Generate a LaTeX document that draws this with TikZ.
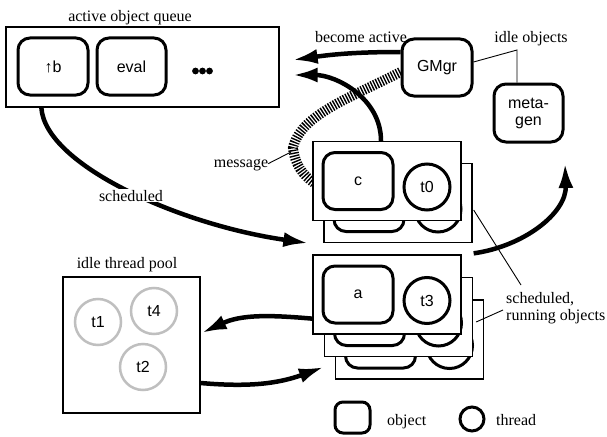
\documentclass[tikz,border=0pt]{standalone}
\usepackage{fontspec}
\setmainfont{Liberation Serif}
\newfontfamily\boxfont{Liberation Sans}
\usetikzlibrary{arrows.meta}

\tikzset{
  lbl/.style={font=\fontsize{16}{17}\selectfont, inner sep=0pt},
  inside/.style={font=\boxfont\fontsize{16}{17}\selectfont},
  obj/.style={inside, draw, line width=3pt, rounded corners=12pt, fill=white,
    minimum width=70pt, minimum height=57pt, inner sep=0pt},
  thr/.style={inside, draw, circle, line width=3pt, fill=white,
    minimum size=46pt, inner sep=0pt},
  idlethr/.style={thr, draw=black!25, line width=2.5pt},
  frame/.style={draw, line width=1.3pt, fill=white, inner sep=0pt},
  card/.style={frame, minimum width=148pt, minimum height=79pt},
  flow/.style={line width=4.5pt, -{Latex[length=25pt,width=15pt]}},
  leader/.style={line width=0.9pt},
  hatchband/.style={line width=10pt, dash pattern=on 1.4pt off 1.4pt},
}

% a running object: frame, object box and its thread
\newcommand\runcard[4]{%
  \node[card] (#1) at (#2) {};
  \node[obj] (#1o) at ([shift={(-29,0)}]#1.center) {#3};
  \node[thr] (#1t) at ([shift={(40,6)}]#1.center) {#4};
}

\begin{document}
\begin{tikzpicture}[x=1pt,y=-1pt]
\useasboundingbox (0,0) rectangle (607,436);

% active object queue
\node[frame, minimum width=273pt, minimum height=80pt] (queue) at (142.5,67) {};
\node[lbl, anchor=base] (queuetitle) at (130,22) {active object queue};
\node[obj] (qb) at (53,66.5) {\textuparrow b};
\node[obj, minimum width=69pt] (qeval) at (131.5,66.5) {eval};
\foreach \dx in {195.5,202.5,209.5} \fill (\dx,71) circle (3.4pt);

% group manager and meta generator
\node[obj] (gmgr) at (437,67.5) {GMgr};
\node[obj, minimum width=69pt, minimum height=58pt, align=center] (metagen) at (528.5,113) {meta-\\gen};
\node[lbl, anchor=base] (becomeactive) at (361,42) {become active};
\node[lbl, anchor=base] (idleobj) at (531,42) {idle objects};
\coordinate (idlecorner) at (517,50);
\draw[leader] ([yshift=5.5pt]gmgr.east) -- (idlecorner) -- ([xshift=-11.5pt]metagen.north);

% idle thread pool
\node[frame, minimum width=137pt, minimum height=136pt] (pool) at (131.5,345) {};
\node[lbl, anchor=base] (pooltitle) at (127,268) {idle thread pool};
\node[idlethr] (t1) at (98,322) {t1};
\node[idlethr] (t4) at (154,311) {t4};
\node[idlethr] (t2) at (143,367) {t2};

% message from the manager to object c
\coordinate (cfrontpos) at (314,183);
\node[lbl, anchor=base] (msg) at (241,167) {message};
\coordinate (msgpt) at (291,152);
\draw[hatchband] ([yshift=-4.5pt]gmgr.west) .. controls (350,98) and (300,115) .. (293,148)
  .. controls (295,165) and (303,175) .. (cfrontpos);
\draw[leader] ([yshift=1pt]msg.east) -- (msgpt);

% scheduled, running objects
\runcard{cback}{398,203}{}{}
\runcard{cfront}{387,181}{c}{t0}
\runcard{athree}{409.5,339.5}{}{}
\runcard{atwo}{398.5,317}{}{}
\runcard{aone}{387,294.5}{a}{t3}

\node[lbl, anchor=north west, align=left] (srun) at (506,292) {scheduled,\\running objects};
\draw[leader] ([shift={(1,7)}]cback.east) -- ([shift={(15,-7)}]srun.north west);
\draw[leader] ([shift={(3,5)}]atwo.east) -- ([shift={(-3,18)}]srun.north west);

% flows between the parts
\coordinate (freeend) at (565,163);
\draw[flow] ([yshift=15.5pt]gmgr.west) to[out=180,in=8] ([shift={(13,-7)}]queue.east);
\draw[flow] ([xshift=-6pt]cfront.north) to[out=90,in=0] ([shift={(13,8)}]queue.east);
\draw[flow] ([xshift=36pt]queue.south west) .. controls (45,165) and (180,225) .. ([shift={(-15,0)}]cback.south west);
\node[lbl, fill=white, inner sep=1pt, anchor=base] (sched) at (131,201) {scheduled};
\draw[flow] ([shift={(12,-1)}]aone.north east) to[out=8,in=-88] (freeend);
\draw[flow] ([yshift=16pt]aone.south west) to[out=175,in=25] ([shift={(1,-12)}]pool.east);
\draw[flow] ([yshift=-38pt]pool.east) to[out=-5,in=200] ([shift={(-11,27.5)}]athree.west);

% legend
\node[obj, minimum width=35pt, minimum height=31pt, rounded corners=8pt] (legobj) at (352.5,417.5) {};
\node[lbl, anchor=base west] (legobjtxt) at (387,425) {object};
\node[thr, minimum size=24pt] (legthr) at (472,419) {};
\node[lbl, anchor=base west] (legthrtxt) at (496,425) {thread};
\end{tikzpicture}
\end{document}
